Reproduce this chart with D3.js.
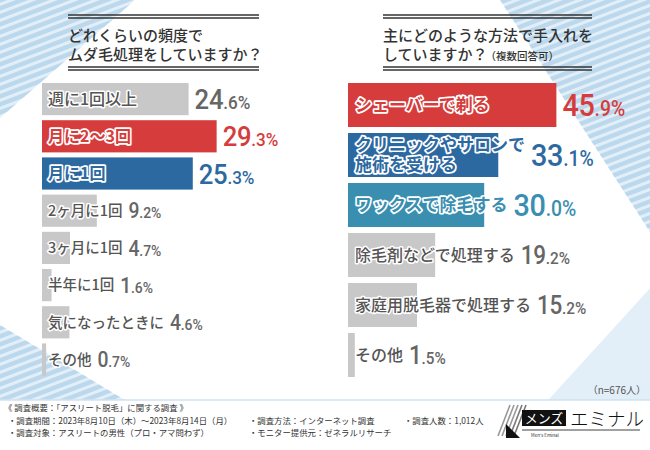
<!DOCTYPE html>
<html>
<head>
<meta charset="utf-8">
<script src="https://cdn.jsdelivr.net/npm/d3@7"></script>
<style>
  html, body { margin: 0; padding: 0; background: #fff; }
  svg { display: block; font-family: "Noto Sans CJK JP", "Noto Sans", sans-serif; }
  .num { font-family: Roboto, "Noto Sans", sans-serif; font-weight: 500; }
</style>
</head>
<body>
<svg id="chart" width="650" height="450"></svg>
<script>
// ---- data ----
const freqTitle = ['どれくらいの頻度で', 'ムダ毛処理をしていますか？'];
const freqLabels = ['週に1回以上', '月に2〜3回', '月に1回', '2ヶ月に1回', '3ヶ月に1回', '半年に1回', '気になったときに', 'その他'];
const freqValues = [24.6, 29.3, 25.3, 9.2, 4.7, 1.6, 4.6, 0.7];

const methodTitle = ['主にどのような方法で手入れを', 'していますか？'];
const methodTitleNote = '（複数回答可）';
const methodLabels = [['シェーバーで剃る'], ['クリニックやサロンで', '施術を受ける'], ['ワックスで除毛する'],
                      ['除毛剤などで処理する'], ['家庭用脱毛器で処理する'], ['その他']];
const methodValues = [45.9, 33.1, 30.0, 19.2, 15.2, 1.5];

const sampleNote = '（n=676人）';
const surveyHeading = '《 調査概要：「アスリート脱毛」に関する調査 》';
const surveyItems = [
    ['・調査期間：2023年8月10日（木）〜2023年8月14日（月）', '・調査対象：アスリートの男性（プロ・アマ問わず）'],
    ['・調査方法：インターネット調査', '・モニター提供元：ゼネラルリサーチ'],
    ['・調査人数：1,012人']
];

// ---- colours ----
const GRAY = '#c8c8c8', RED = '#d63c3c', BLUE = '#2d69a1', TEAL = '#3a8fb1';
const INK = '#333';

const svg = d3.select('#chart');

// ---- background stripes ----
const defs = svg.append('defs');
const corners = [
    { id: 'tl', pts: [[0, 0], [135, 0], [0, 118]] },
    { id: 'tr', pts: [[500, 0], [650, 0], [650, 232]] },
    { id: 'bl', pts: [[0, 325], [0, 400], [125, 400]] },
    { id: 'br', pts: [[548, 400], [650, 400], [650, 288]] }
];
corners.forEach(c => {
    defs.append('clipPath').attr('id', 'clip-' + c.id)
        .append('polygon').attr('points', c.pts.map(p => p.join(',')).join(' '));
    const g = svg.append('g').attr('clip-path', `url(#clip-${c.id})`);
    g.append('polygon').attr('points', c.pts.map(p => p.join(',')).join(' '))
        .attr('fill', '#e3eff8');
    const ys = d3.range(-120, 520, 8);
    g.selectAll('line').data(ys).join('line')
        .attr('x1', -20).attr('x2', 680)
        .attr('y1', d => d).attr('y2', d => d - 0.38 * 700)
        .attr('stroke', '#bcd8ed').attr('stroke-width', 4.5);
});
svg.append('line').attr('x1', 0).attr('x2', 650).attr('y1', 400).attr('y2', 400)
    .attr('stroke', '#cfe2f1').attr('stroke-width', 1.5);

// ---- helpers ----
function drawTitle(x0, x1, lines, note) {
    const g = svg.append('g');
    [15, 18, 67, 70].forEach(y => {
        g.append('line').attr('x1', x0).attr('x2', x1).attr('y1', y).attr('y2', y)
            .attr('stroke', INK).attr('stroke-width', 1.4);
    });
    lines.forEach((t, i) => {
        const txt = g.append('text').attr('x', x0).attr('y', 41 + i * 19)
            .attr('font-size', 15).attr('font-weight', 500).attr('fill', INK).text(t);
        if (note && i === lines.length - 1) {
            txt.append('tspan').attr('font-size', 10.5).attr('dx', -2).text(note);
        }
    });
}

// integer part large, decimal + % smaller, slightly condensed
function valueText(g, vx, cy, v, sizes, color) {
    const parts = v.toFixed(1).split('.');
    const t = g.append('text')
        .attr('class', 'num')
        .attr('transform', `translate(${vx},${cy}) scale(0.9,1)`)
        .attr('dy', sizes[0] * 0.355)
        .attr('fill', color);
    t.append('tspan').attr('font-size', sizes[0]).attr('letter-spacing', -0.3).text(parts[0]);
    t.append('tspan').attr('font-size', sizes[1]).text('.' + parts[1] + '%');
}

function drawPanel(opts) {
    const { labels, values, colorOf, x, y, bigRows, lineGap } = opts;
    const g = svg.append('g');
    const rows = values.map((v, i) => ({ v, i, label: labels[i], color: colorOf(i) }));

    g.selectAll('rect').data(rows).join('rect')
        .attr('x', x(0))
        .attr('y', d => y(d.i))
        .attr('width', d => x(d.v) - x(0))
        .attr('height', y.bandwidth())
        .attr('fill', d => d.color);

    rows.forEach(d => {
        const big = d.i < bigRows;
        const colored = d.color !== GRAY;
        const cy = y(d.i) + y.bandwidth() / 2;
        const lines = Array.isArray(d.label) ? d.label : [d.label];
        const lx = x(0) + opts.labelPad;
        // one text per label, extra lines as tspans
        const txt = g.append('text')
            .attr('x', lx)
            .attr('y', cy - (lines.length - 1) / 2 * lineGap)
            .attr('font-size', big ? opts.labelBig : opts.labelSmall)
            .attr('font-weight', colored ? 700 : 500)
            .attr('paint-order', 'stroke')
            .attr('stroke', '#fff')
            .attr('stroke-linejoin', 'round')
            .attr('stroke-width', colored ? 3.4 : 3)
            .attr('fill', colored ? d.color : '#555');
        let labelEnd = 0;
        lines.forEach((t, k) => {
            const sp = txt.append('tspan')
                .attr('x', lx)
                .attr('dy', k === 0 ? '0.36em' : lineGap)
                .text(t);
            labelEnd = Math.max(labelEnd, lx + sp.node().getComputedTextLength());
        });
        const vx = Math.max(labelEnd, x(d.v)) + 6;
        valueText(g, vx, cy, d.v, big ? opts.numBig : opts.numSmall, colored ? d.color : '#666');
    });
}

// ---- left panel ----
drawTitle(68, 259, freqTitle);
const freqColors = d3.scaleOrdinal().domain(d3.range(freqLabels.length))
    .range([GRAY, RED, BLUE, GRAY, GRAY, GRAY, GRAY, GRAY]);
drawPanel({
    labels: freqLabels,
    values: freqValues,
    colorOf: i => freqColors(i),
    x: d3.scaleLinear().domain([0, 50]).range([42, 42 + 298]),
    y: d3.scaleBand().domain(d3.range(freqLabels.length)).range([80.5, 378.1]).paddingInner(0.135).paddingOuter(0.0675),
    bigRows: 3, lineGap: 19, labelPad: 6,
    labelBig: 16, labelSmall: 14.5,
    numBig: [28.5, 19], numSmall: [21.5, 15.5]
});

// ---- right panel ----
drawTitle(383, 592, methodTitle, methodTitleNote);
const methodColors = d3.scaleOrdinal().domain(d3.range(methodLabels.length))
    .range([RED, BLUE, TEAL, GRAY, GRAY, GRAY]);
drawPanel({
    labels: methodLabels,
    values: methodValues,
    colorOf: i => methodColors(i),
    x: d3.scaleLinear().domain([0, 50]).range([348, 348 + 227]),
    y: d3.scaleBand().domain(d3.range(methodLabels.length)).range([80, 380]).paddingInner(0.12).paddingOuter(0.06),
    bigRows: 3, lineGap: 19.5, labelPad: 7,
    labelBig: 17, labelSmall: 16,
    numBig: [32, 21.5], numSmall: [25, 17]
});

svg.append('text').attr('x', 646).attr('y', 394).attr('text-anchor', 'end')
    .attr('font-size', 10).attr('fill', '#555').text(sampleNote);

// ---- footer ----
const foot = svg.append('g').attr('font-size', 8.4).attr('fill', INK);
foot.append('text').attr('x', 4).attr('y', 411).text(surveyHeading);
const colX = [8, 249, 404];
surveyItems.forEach((col, c) => {
    col.forEach((t, r) => {
        foot.append('text').attr('x', colX[c]).attr('y', 424 + r * 12).text(t);
    });
});

// ---- logo ----
const logo = svg.append('g');
d3.range(5).forEach(k => {
    logo.append('line')
        .attr('x1', 498 + k * 4).attr('y1', 436)
        .attr('x2', 510 + k * 4).attr('y2', 405)
        .attr('stroke', k < 3 ? '#999' : '#777').attr('stroke-width', 1.6);
});
logo.append('polygon').attr('points', '506,424 506,438 520,438').attr('fill', '#111');
logo.append('rect').attr('x', 522).attr('y', 410).attr('width', 44).attr('height', 16).attr('fill', '#111');
logo.append('text').attr('x', 544).attr('y', 423).attr('text-anchor', 'middle')
    .attr('font-size', 13).attr('fill', '#fff').text('メンズ');
logo.append('text').attr('x', 570).attr('y', 426)
    .attr('font-size', 18.5).attr('font-weight', 300).attr('fill', '#111').text('エミナル');
logo.append('line').attr('x1', 522).attr('x2', 640).attr('y1', 430).attr('y2', 430)
    .attr('stroke', '#111').attr('stroke-width', 0.8);
logo.append('text').attr('x', 545).attr('y', 437).attr('text-anchor', 'middle')
    .attr('font-size', 4.5).attr('fill', '#333').text("Men's Eminal");
</script>
</body>
</html>
